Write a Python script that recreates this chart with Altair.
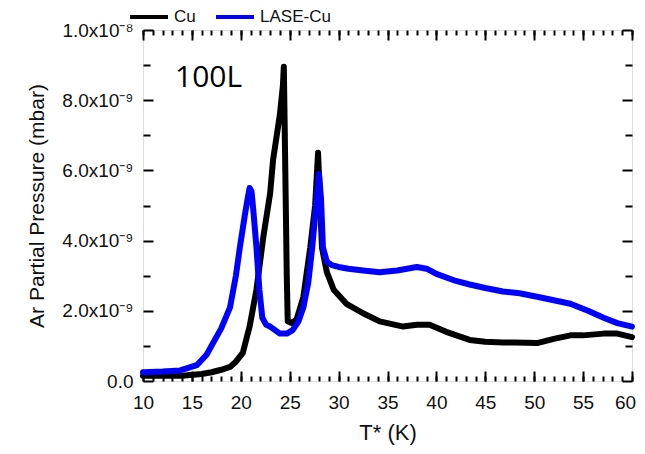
import altair as alt
import pandas as pd

# Cu (black) series: T* (K), pressure in units of 1e-9 mbar
cu_t = [10.0, 12.0, 14.0, 16.0, 17.0, 18.0, 18.9, 19.5, 20.2, 20.9, 21.6, 22.3, 23.0,
        23.3, 24.0, 24.3, 24.4, 24.55, 24.7, 24.8, 25.2, 25.7, 26.4, 27.1, 27.6, 27.9,
        28.3, 28.8, 29.5, 30.8, 32.5, 34.2, 36.6, 38.0, 39.3, 41.0, 43.4, 45.0, 46.8,
        48.0, 50.3, 52.0, 53.7, 55.0, 57.1, 58.5, 60.0]
cu_p = [0.15, 0.15, 0.15, 0.2, 0.25, 0.32, 0.4, 0.55, 0.8, 1.55, 2.6, 4.1, 5.35,
        6.3, 7.6, 8.4, 8.95, 6.0, 3.0, 1.7, 1.65, 1.75, 2.4, 3.8, 5.0, 6.5,
        3.8, 3.1, 2.6, 2.2, 1.93, 1.7, 1.55, 1.6, 1.6, 1.4, 1.17, 1.12, 1.1,
        1.1, 1.08, 1.2, 1.3, 1.3, 1.35, 1.35, 1.25]

# LASE-Cu (blue) series
lase_t = [10.0, 12.0, 13.8, 15.5, 16.5, 17.2, 18.0, 18.9, 19.5, 19.9, 20.4, 20.7, 20.9,
          21.1, 21.3, 21.6, 21.9, 22.2, 22.6, 23.0, 24.0, 24.7, 25.3, 25.9, 26.4, 26.9,
          27.3, 27.7, 28.0, 28.2, 28.4, 28.8, 29.3, 30.0, 31.0, 32.5, 34.2, 36.0, 38.0,
          39.0, 40.0, 42.0, 43.4, 45.0, 46.8, 48.5, 50.3, 52.0, 53.7, 55.5, 57.1, 58.5, 60.0]
lase_p = [0.25, 0.27, 0.3, 0.45, 0.75, 1.1, 1.5, 2.1, 3.0, 3.8, 4.7, 5.2, 5.5,
          5.4, 4.8, 3.8, 2.6, 1.8, 1.6, 1.55, 1.35, 1.35, 1.45, 1.7, 2.1, 2.8,
          3.8, 5.0, 5.9, 5.2, 3.8, 3.4, 3.3, 3.25, 3.2, 3.15, 3.1, 3.15, 3.25,
          3.2, 3.05, 2.85, 2.75, 2.65, 2.55, 2.5, 2.4, 2.3, 2.2, 2.0, 1.8, 1.65, 1.55]

series_names = ["Cu", "LASE-Cu"]
series_colors = ["#000000", "#0000FF"]

x_major = [10, 15, 20, 25, 30, 35, 40, 45, 50, 55, 60]
x_minor = list(range(10, 61))
y_major = [0, 2e-9, 4e-9, 6e-9, 8e-9, 1e-8]
y_minor = [1e-9, 3e-9, 5e-9, 7e-9, 9e-9]

annot_text = ["100L"]
annot_t = [13.27]
annot_p = [8.38e-9]

rows = []
for t, p in zip(cu_t, cu_p):
    rows.append({"T": t, "P": p * 1e-9, "series": "Cu"})
for t, p in zip(lase_t, lase_p):
    rows.append({"T": t, "P": p * 1e-9, "series": "LASE-Cu"})
df = pd.DataFrame(rows)
ann = pd.DataFrame({"T": annot_t, "P": annot_p, "text": annot_text})

W, H = 489, 351
FONT = "Liberation Sans"
xs = alt.Scale(domain=[10, 60], nice=False, zero=False)
ys = alt.Scale(domain=[0, 1e-8], nice=False)

label_expr = ("datum.value == 0 ? '0.0' : (datum.value >= 9.99e-9 ? "
              "format(datum.value*1e8, '.1f') + 'x10⁻⁸' : "
              "format(datum.value*1e9, '.1f') + 'x10⁻⁹')")

base = alt.Chart(df)

lines = base.mark_line(strokeWidth=6, strokeJoin="round", strokeCap="round").encode(
    x=alt.X("T:Q", scale=xs, axis=alt.Axis(
        orient="bottom", values=x_major, ticks=False, domain=False, grid=False,
        labelFlush=False, labelFont=FONT, labelFontSize=19, labelColor="#111",
        labelPadding=12,
        labelOffset={"condition": {"test": "datum.value >= 60", "value": -7}, "value": 0},
        title="T* (K)", titleFont=FONT, titleFontSize=22,
        titleFontWeight="normal", titleColor="#111", titlePadding=10)),
    y=alt.Y("P:Q", scale=ys, axis=alt.Axis(
        orient="left", values=y_major, ticks=False, domain=False, grid=False,
        labelFlush=False, labelExpr=label_expr, labelFont=FONT, labelFontSize=19,
        labelColor="#111", labelPadding=10, title="Ar Partial Pressure (mbar)",
        titleFont=FONT, titleFontSize=21, titleFontWeight="normal", titleColor="#111",
        titlePadding=14)),
    color=alt.Color("series:N", scale=alt.Scale(domain=series_names, range=series_colors),
                    legend=alt.Legend(
                        orient="none", legendX=-15, legendY=-34, direction="horizontal",
                        title=None, symbolType="stroke", symbolSize=1444,
                        symbolStrokeWidth=4, labelFont=FONT, labelFontSize=17,
                        labelColor="#111", labelOffset=4, columnPadding=12, padding=0)),
    order=alt.Order("T:Q"),
)


def tick_layer(xorient, yorient, xvals, yvals, xsize, ysize):
    # negative tick sizes (via expressions) draw the ticks inward
    return base.mark_point(opacity=0).encode(
        x=alt.X("T:Q", scale=xs, axis=alt.Axis(
            orient=xorient, values=xvals, tickSize={"expr": str(-xsize)}, tickWidth=2,
            tickColor="black", labels=False, domain=False, grid=False, title=None)),
        y=alt.Y("P:Q", scale=ys, axis=alt.Axis(
            orient=yorient, values=yvals, tickSize={"expr": str(-ysize)}, tickWidth=2,
            tickColor="black", labels=False, domain=False, grid=False, title=None)),
    )


# alternate sides so that the layered axes keep their orientation
tA = tick_layer("top", "right", x_major, y_major, 10, 10)
tB = tick_layer("bottom", "left", x_major, y_major, 10, 10)
tC = tick_layer("top", "right", x_minor, y_minor, 5, 7)
tD = tick_layer("bottom", "left", x_minor, y_minor, 5, 7)

label = alt.Chart(ann).mark_text(
    align="left", baseline="alphabetic", font="Open Sans", fontSize=30, color="black"
).encode(
    x=alt.X("T:Q", scale=xs, axis=None),
    y=alt.Y("P:Q", scale=ys, axis=None),
    text="text:N",
)

chart = alt.layer(lines, tA, tB, tC, tD, label).resolve_axis(
    x="independent", y="independent"
).properties(
    width=W, height=H, autosize="none",
    padding={"left": 135, "top": 22, "right": 5, "bottom": 73},
).configure_view(stroke="black", strokeWidth=2.5).configure(background="white")

chart.save("out.html", embed_options={"renderer": "svg", "actions": False})
